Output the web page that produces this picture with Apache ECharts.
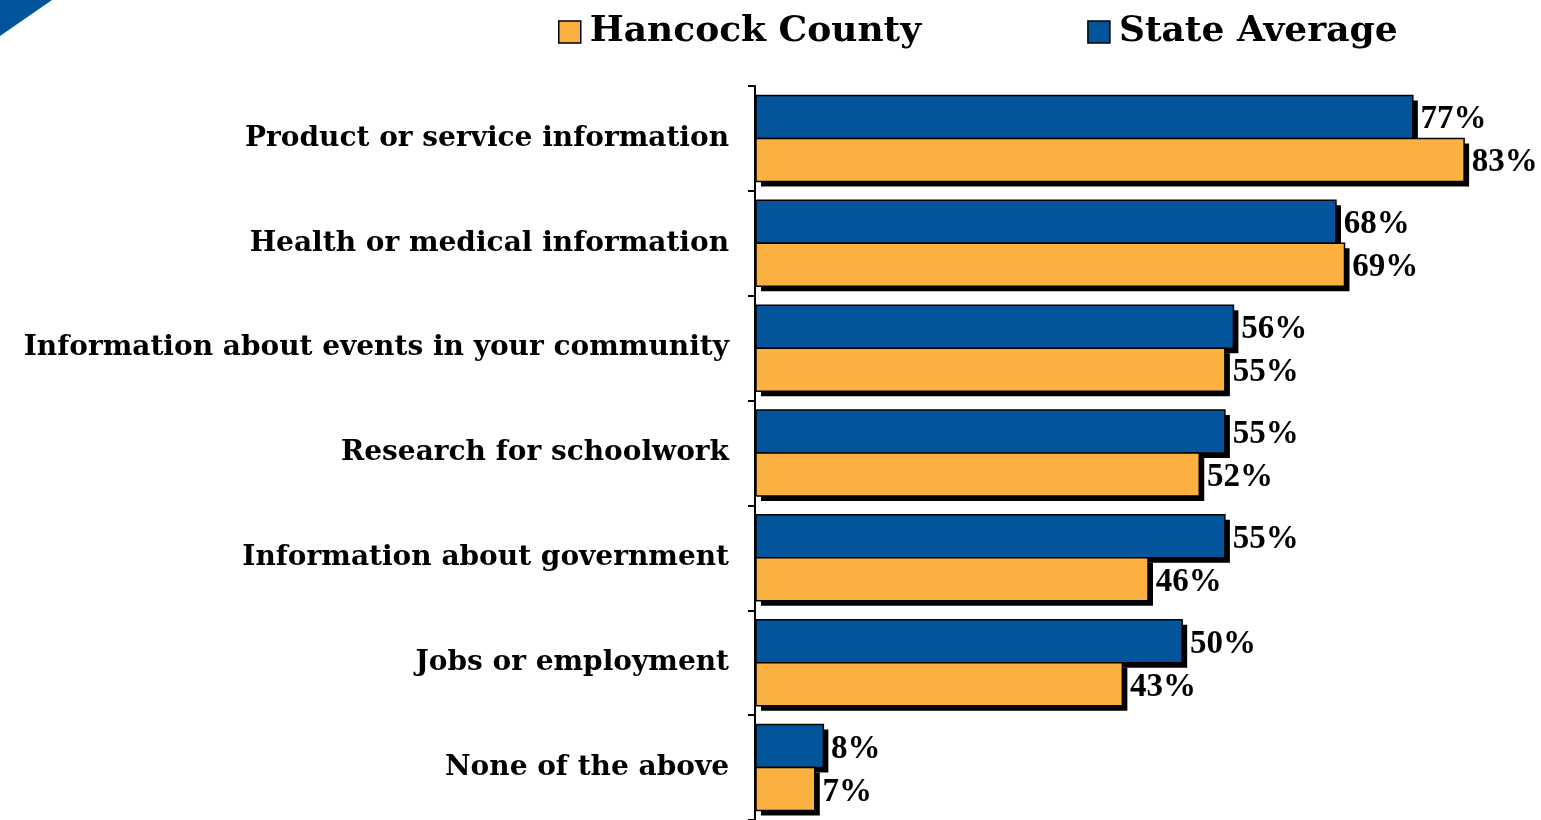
<!DOCTYPE html>
<html><head><meta charset="utf-8">
<script src="https://cdn.jsdelivr.net/npm/echarts@6/dist/echarts.min.js"></script>
<style>html,body{margin:0;padding:0;background:#fff}#c{width:1541px;height:820px}</style>
</head><body><div id="c"></div>
<script>
const categories = ['Product or service information','Health or medical information','Information about events in your community','Research for schoolwork','Information about government','Jobs or employment','None of the above'];
const hancock = [83, 69, 55, 52, 46, 43, 7];
const stateAvg = [77, 68, 56, 55, 55, 50, 8];
const seriesNames = ['Hancock County', 'State Average'];

const VFONT = '"Liberation Serif", serif';
const TFONT = '"DejaVu Serif", serif';
const BLUE = '#02559A', ORANGE = '#FBB040';
const chart = echarts.init(document.getElementById('c'), null, {renderer: 'canvas'});

function makeRender(color, slot) {
  return function (params, api) {
    const cat = api.value(0), val = api.value(1);
    const p0 = api.coord([0, cat]);
    const p1 = api.coord([val, cat]);
    const band = api.size([0, 1])[1];
    const h = band * 0.82 / 2;
    const y = p0[1] - h + slot * h;
    const x = p0[0] + 1;
    const w = p1[0] - p0[0] - 1;
    return {
      type: 'group',
      children: [
        {type: 'rect', shape: {x: x + 5, y: y + 5, width: w, height: h}, style: {fill: '#000'}},
        {type: 'rect', shape: {x: x, y: y, width: w, height: h},
         style: {fill: color, stroke: '#000', lineWidth: 1.5},
         textContent: {style: {text: val + '%', fontFamily: VFONT, fontWeight: 'bold', fontSize: 33, fill: '#000'}},
         textConfig: {position: 'right', distance: 7, offset: [0, 3]}}
      ]
    };
  };
}

chart.setOption({
  animation: false,
  backgroundColor: '#fff',
  graphic: [{type: 'polygon', shape: {points: [[0,0],[52,0],[0,36]]}, style: {fill: BLUE}}],
  legend: {
    data: seriesNames, top: 9, left: 553, itemWidth: 22, itemHeight: 22, itemGap: 166,
    icon: 'rect',
    itemStyle: {borderColor: '#000', borderWidth: 1.5},
    textStyle: {fontFamily: TFONT, fontWeight: 'bold', fontSize: 36, color: '#000', padding: [0,0,0,4]}
  },
  grid: {left: 755, right: 0, top: 86, height: 737, containLabel: false},
  xAxis: {type: 'value', min: 0, max: 92, show: false},
  yAxis: {
    type: 'category', data: categories, inverse: true,
    axisLine: {lineStyle: {color: '#000', width: 2}},
    axisTick: {show: true, length: 7, lineStyle: {color: '#000', width: 2}},
    axisLabel: {margin: 26, fontFamily: TFONT, fontWeight: 'bold', fontSize: 28, color: '#000'}
  },
  series: [
    {name: 'State Average', type: 'custom', renderItem: makeRender(BLUE, 0),
     data: stateAvg.map((v, i) => [i, v]), encode: {x: 1, y: 0},
     itemStyle: {color: BLUE}, z: 2},
    {name: 'Hancock County', type: 'custom', renderItem: makeRender(ORANGE, 1),
     data: hancock.map((v, i) => [i, v]), encode: {x: 1, y: 0},
     itemStyle: {color: ORANGE}, z: 3}
  ]
});
</script></body></html>
